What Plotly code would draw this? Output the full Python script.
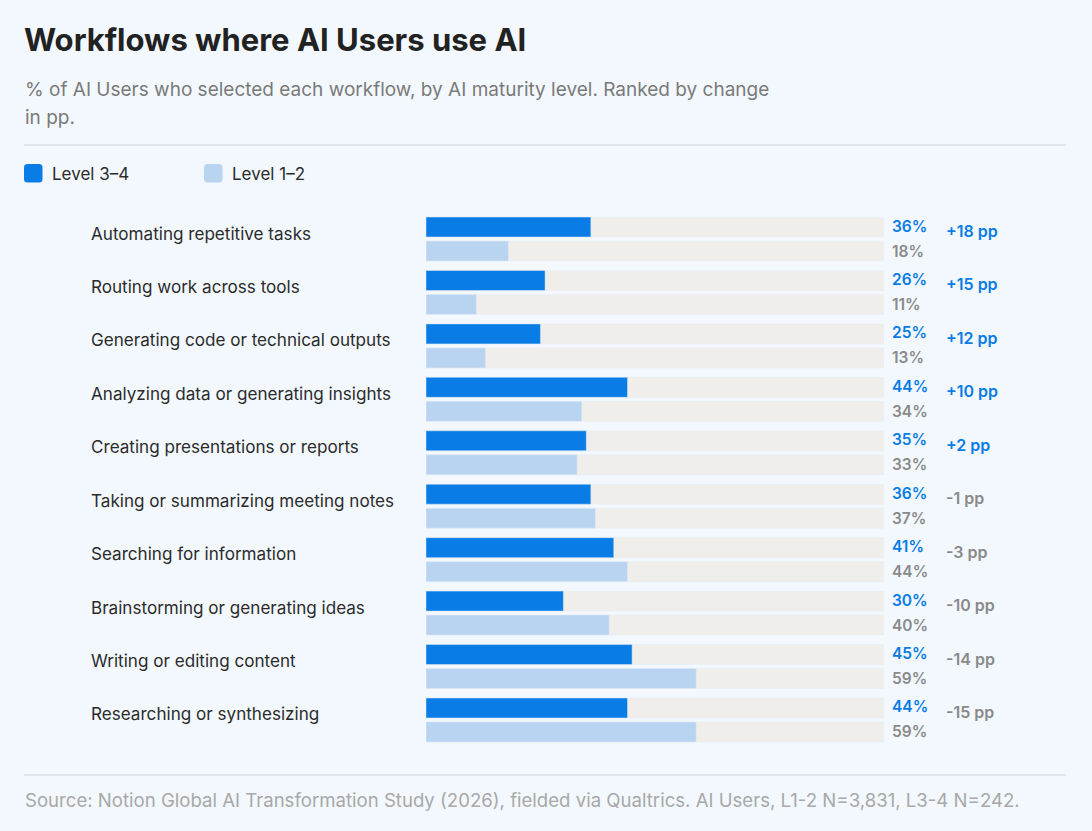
import plotly.graph_objects as go

# Data (ranked by change in pp)
workflows = [
    "Automating repetitive tasks",
    "Routing work across tools",
    "Generating code or technical outputs",
    "Analyzing data or generating insights",
    "Creating presentations or reports",
    "Taking or summarizing meeting notes",
    "Searching for information",
    "Brainstorming or generating ideas",
    "Writing or editing content",
    "Researching or synthesizing",
]
level_34 = [36, 26, 25, 44, 35, 36, 41, 30, 45, 44]
level_12 = [18, 11, 13, 34, 33, 37, 44, 40, 59, 59]
change_pp = [18, 15, 12, 10, 2, -1, -3, -10, -14, -15]

BG = "#F2F8FD"
DARK = "#0A7CE6"
LIGHT = "#B8D4F1"
TRACK = "#EFEEEA"
FONT = "Inter"

W, H = 1092, 831


def py(px):
    """pixel row -> paper y"""
    return 1 - px / H


def px_x(px):
    return px / W


def rounded_square(x0, y0, size, r):
    """SVG path (paper coords) for a small rounded square, given in pixels"""
    x1, y1 = x0 + size, y0 + size
    pts = [
        f"M {px_x(x0 + r)},{py(y0)}",
        f"L {px_x(x1 - r)},{py(y0)}",
        f"Q {px_x(x1)},{py(y0)} {px_x(x1)},{py(y0 + r)}",
        f"L {px_x(x1)},{py(y1 - r)}",
        f"Q {px_x(x1)},{py(y1)} {px_x(x1 - r)},{py(y1)}",
        f"L {px_x(x0 + r)},{py(y1)}",
        f"Q {px_x(x0)},{py(y1)} {px_x(x0)},{py(y1 - r)}",
        f"L {px_x(x0)},{py(y0 + r)}",
        f"Q {px_x(x0)},{py(y0)} {px_x(x0 + r)},{py(y0)}",
        "Z",
    ]
    return " ".join(pts)


idx = list(range(len(workflows)))
off = 0.2245
bar_w = 0.374
y_dark = [i - off for i in idx]
y_light = [i + off for i in idx]

fig = go.Figure()

# grey background tracks (0-100%)
fig.add_trace(go.Bar(y=y_dark + y_light, x=[100] * (2 * len(idx)),
                     orientation="h", width=bar_w, marker=dict(color=TRACK),
                     hoverinfo="skip", showlegend=False))

fig.add_trace(go.Bar(y=y_dark, x=level_34, orientation="h", width=bar_w,
                     marker=dict(color=DARK), name="Level 3–4",
                     showlegend=False,
                     hovertemplate="%{x}%<extra>Level 3–4</extra>"))
fig.add_trace(go.Bar(y=y_light, x=level_12, orientation="h", width=bar_w,
                     marker=dict(color=LIGHT), name="Level 1–2",
                     showlegend=False,
                     hovertemplate="%{x}%<extra>Level 1–2</extra>"))

annotations = []
for i, name in enumerate(workflows):
    annotations.append(dict(
        xref="paper", yref="y", x=px_x(89), y=i, xanchor="left",
        yanchor="middle", yshift=6, text=name, showarrow=False,
        font=dict(family=FONT, size=17.1, color="#2B2B2B")))
    annotations.append(dict(
        xref="x", yref="y", x=100, y=y_dark[i], xanchor="left",
        yanchor="middle", xshift=6, yshift=1, text=f"{level_34[i]}%",
        showarrow=False,
        font=dict(family=FONT, size=15.5, color=DARK, weight=600)))
    annotations.append(dict(
        xref="x", yref="y", x=100, y=y_light[i], xanchor="left",
        yanchor="middle", xshift=6, text=f"{level_12[i]}%",
        showarrow=False,
        font=dict(family=FONT, size=15.5, color="#8A8A8A", weight=600)))
    d = change_pp[i]
    annotations.append(dict(
        xref="x", yref="y", x=100, y=i, xanchor="left", yanchor="middle",
        xshift=60, yshift=8, text=(f"+{d} pp" if d > 0 else f"{d} pp"),
        showarrow=False,
        font=dict(family=FONT, size=16, color=DARK if d > 0 else "#8A8A8A",
                  weight=600)))

# title, subtitle, legend, source
annotations += [
    dict(xref="paper", yref="paper", x=px_x(22), y=py(40), xanchor="left",
         yanchor="middle", showarrow=False,
         text="<b>Workflows where AI Users use AI</b>",
         font=dict(family=FONT, size=31, color="#222222")),
    dict(xref="paper", yref="paper", x=px_x(23), y=py(89), xanchor="left",
         yanchor="middle", showarrow=False,
         text=("% of AI Users who selected each workflow, by AI maturity "
               "level. Ranked by change"),
         font=dict(family=FONT, size=19, color="#7A7A7A")),
    dict(xref="paper", yref="paper", x=px_x(23), y=py(117), xanchor="left",
         yanchor="middle", showarrow=False, text="in pp.",
         font=dict(family=FONT, size=19, color="#7A7A7A")),
    dict(xref="paper", yref="paper", x=px_x(50), y=py(174), xanchor="left",
         yanchor="middle", showarrow=False, text="Level 3–4",
         font=dict(family=FONT, size=17, color="#2B2B2B")),
    dict(xref="paper", yref="paper", x=px_x(230), y=py(174), xanchor="left",
         yanchor="middle", showarrow=False, text="Level 1–2",
         font=dict(family=FONT, size=17, color="#2B2B2B")),
    dict(xref="paper", yref="paper", x=px_x(23), y=py(800), xanchor="left",
         yanchor="middle", showarrow=False,
         text=("Source: Notion Global AI Transformation Study (2026), fielded "
               "via Qualtrics. AI Users, L1-2 N=3,831, L3-4 N=242."),
         font=dict(family=FONT, size=18.6, color="#A8A8A8")),
]

shapes = [
    dict(type="line", xref="paper", yref="paper", x0=px_x(24),
         x1=px_x(1066), y0=py(145), y1=py(145),
         line=dict(color="#CFD3D7", width=1)),
    dict(type="line", xref="paper", yref="paper", x0=px_x(24),
         x1=px_x(1066), y0=py(775), y1=py(775),
         line=dict(color="#CFD3D7", width=1)),
    dict(type="path", xref="paper", yref="paper",
         path=rounded_square(24, 164, 18.5, 3.5), fillcolor=DARK,
         line=dict(width=0)),
    dict(type="path", xref="paper", yref="paper",
         path=rounded_square(204, 164, 18.5, 3.5), fillcolor=LIGHT,
         line=dict(width=0)),
]

fig.update_layout(
    width=W, height=H,
    paper_bgcolor=BG, plot_bgcolor=BG,
    barmode="overlay",
    margin=dict(l=0, r=0, t=0, b=0),
    showlegend=False,
    xaxis=dict(domain=[px_x(426), px_x(884)], range=[0, 100],
               visible=False, fixedrange=True),
    yaxis=dict(domain=[py(746.7), py(212.3)], range=[9.5, -0.5],
               visible=False, fixedrange=True),
    annotations=annotations,
    shapes=shapes,
    font=dict(family=FONT),
)

fig.write_html("out.html",
               config=dict(displayModeBar=False),
               post_script="document.body.style.margin='0';"
                           "document.body.style.overflow='hidden';")
